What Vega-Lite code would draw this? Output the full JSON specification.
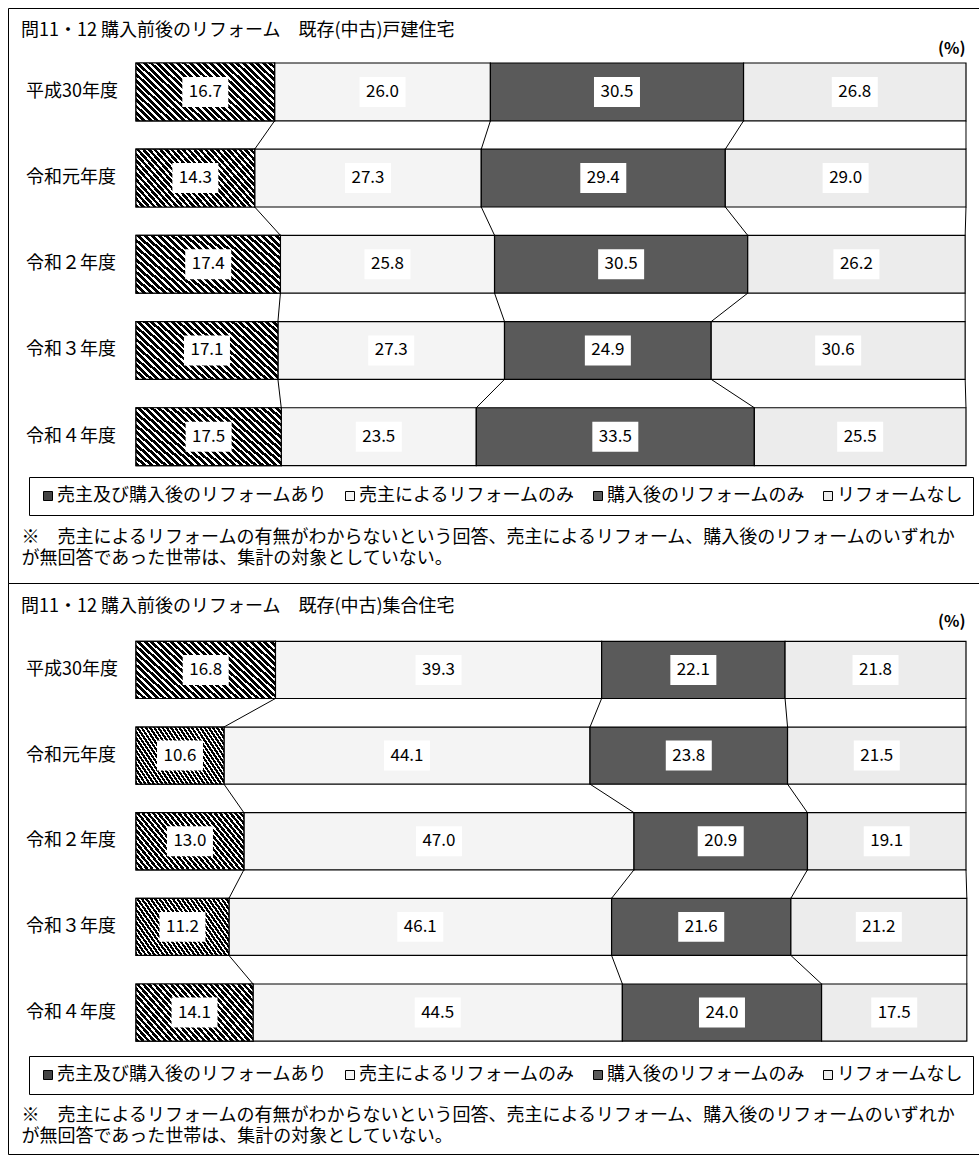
{
  "$schema": "https://vega.github.io/schema/vega-lite/v6.json",
  "padding": {"left": 7, "top": 7, "right": 0, "bottom": 0},
  "background": "white",
  "config": {
    "font": "Noto Sans CJK JP",
    "view": {"stroke": "black", "strokeWidth": 1},
    "axis": {"grid": false}
  },
  "datasets": {
    "d": [
      {"house": "戸建", "year": "平成30年度", "fy": 2018, "cat": "売主及び購入後のリフォームあり", "v": 16.7},
      {"house": "戸建", "year": "平成30年度", "fy": 2018, "cat": "売主によるリフォームのみ", "v": 26.0},
      {"house": "戸建", "year": "平成30年度", "fy": 2018, "cat": "購入後のリフォームのみ", "v": 30.5},
      {"house": "戸建", "year": "平成30年度", "fy": 2018, "cat": "リフォームなし", "v": 26.8},
      {"house": "戸建", "year": "令和元年度", "fy": 2019, "cat": "売主及び購入後のリフォームあり", "v": 14.3},
      {"house": "戸建", "year": "令和元年度", "fy": 2019, "cat": "売主によるリフォームのみ", "v": 27.3},
      {"house": "戸建", "year": "令和元年度", "fy": 2019, "cat": "購入後のリフォームのみ", "v": 29.4},
      {"house": "戸建", "year": "令和元年度", "fy": 2019, "cat": "リフォームなし", "v": 29.0},
      {"house": "戸建", "year": "令和２年度", "fy": 2020, "cat": "売主及び購入後のリフォームあり", "v": 17.4},
      {"house": "戸建", "year": "令和２年度", "fy": 2020, "cat": "売主によるリフォームのみ", "v": 25.8},
      {"house": "戸建", "year": "令和２年度", "fy": 2020, "cat": "購入後のリフォームのみ", "v": 30.5},
      {"house": "戸建", "year": "令和２年度", "fy": 2020, "cat": "リフォームなし", "v": 26.2},
      {"house": "戸建", "year": "令和３年度", "fy": 2021, "cat": "売主及び購入後のリフォームあり", "v": 17.1},
      {"house": "戸建", "year": "令和３年度", "fy": 2021, "cat": "売主によるリフォームのみ", "v": 27.3},
      {"house": "戸建", "year": "令和３年度", "fy": 2021, "cat": "購入後のリフォームのみ", "v": 24.9},
      {"house": "戸建", "year": "令和３年度", "fy": 2021, "cat": "リフォームなし", "v": 30.6},
      {"house": "戸建", "year": "令和４年度", "fy": 2022, "cat": "売主及び購入後のリフォームあり", "v": 17.5},
      {"house": "戸建", "year": "令和４年度", "fy": 2022, "cat": "売主によるリフォームのみ", "v": 23.5},
      {"house": "戸建", "year": "令和４年度", "fy": 2022, "cat": "購入後のリフォームのみ", "v": 33.5},
      {"house": "戸建", "year": "令和４年度", "fy": 2022, "cat": "リフォームなし", "v": 25.5},
      {"house": "集合", "year": "平成30年度", "fy": 2018, "cat": "売主及び購入後のリフォームあり", "v": 16.8},
      {"house": "集合", "year": "平成30年度", "fy": 2018, "cat": "売主によるリフォームのみ", "v": 39.3},
      {"house": "集合", "year": "平成30年度", "fy": 2018, "cat": "購入後のリフォームのみ", "v": 22.1},
      {"house": "集合", "year": "平成30年度", "fy": 2018, "cat": "リフォームなし", "v": 21.8},
      {"house": "集合", "year": "令和元年度", "fy": 2019, "cat": "売主及び購入後のリフォームあり", "v": 10.6},
      {"house": "集合", "year": "令和元年度", "fy": 2019, "cat": "売主によるリフォームのみ", "v": 44.1},
      {"house": "集合", "year": "令和元年度", "fy": 2019, "cat": "購入後のリフォームのみ", "v": 23.8},
      {"house": "集合", "year": "令和元年度", "fy": 2019, "cat": "リフォームなし", "v": 21.5},
      {"house": "集合", "year": "令和２年度", "fy": 2020, "cat": "売主及び購入後のリフォームあり", "v": 13.0},
      {"house": "集合", "year": "令和２年度", "fy": 2020, "cat": "売主によるリフォームのみ", "v": 47.0},
      {"house": "集合", "year": "令和２年度", "fy": 2020, "cat": "購入後のリフォームのみ", "v": 20.9},
      {"house": "集合", "year": "令和２年度", "fy": 2020, "cat": "リフォームなし", "v": 19.1},
      {"house": "集合", "year": "令和３年度", "fy": 2021, "cat": "売主及び購入後のリフォームあり", "v": 11.2},
      {"house": "集合", "year": "令和３年度", "fy": 2021, "cat": "売主によるリフォームのみ", "v": 46.1},
      {"house": "集合", "year": "令和３年度", "fy": 2021, "cat": "購入後のリフォームのみ", "v": 21.6},
      {"house": "集合", "year": "令和３年度", "fy": 2021, "cat": "リフォームなし", "v": 21.2},
      {"house": "集合", "year": "令和４年度", "fy": 2022, "cat": "売主及び購入後のリフォームあり", "v": 14.1},
      {"house": "集合", "year": "令和４年度", "fy": 2022, "cat": "売主によるリフォームのみ", "v": 44.5},
      {"house": "集合", "year": "令和４年度", "fy": 2022, "cat": "購入後のリフォームのみ", "v": 24.0},
      {"house": "集合", "year": "令和４年度", "fy": 2022, "cat": "リフォームなし", "v": 17.5}
    ]
  },
  "bounds": "flush",
  "spacing": 0,
  "resolve": {"scale": {"x": "independent", "y": "independent", "fill": "independent"}, "legend": {"fill": "independent"}},
  "vconcat": [
    {
      "width": 971,
      "height": 575,
      "data": {"name": "d"},
      "title": {"text": "問11・12 購入前後のリフォーム　既存(中古)戸建住宅", "anchor": "start", "frame": "group", "offset": -41, "dx": 13, "baseline": "middle", "fontSize": 18, "fontWeight": "normal", "color": "black"},
      "transform": [
        {"filter": "datum.house === '戸建'"},
        {"calculate": "indexof(['売主及び購入後のリフォームあり','売主によるリフォームのみ','購入後のリフォームのみ','リフォームなし'], datum.cat)", "as": "ci"},
        {"window": [{"op": "sum", "field": "v", "as": "c1"}], "groupby": ["year"], "sort": [{"field": "ci"}], "frame": [null, 0]},
        {"calculate": "datum.c1 - datum.v", "as": "c0"},
        {"calculate": "datum.c1 - datum.v / 2", "as": "mid"}
      ],
      "resolve": {"axis": {"x": "independent"}},
      "layer": [
        {
          "mark": {"type": "rect", "stroke": "black", "strokeWidth": 1.2},
          "encoding": {
            "x": {"field": "c0", "type": "quantitative", "scale": {"domain": [-15.4217, 101.5663], "nice": false, "zero": false},
              "axis": {"orient": "top", "domain": false, "ticks": false, "labels": false, "grid": false, "title": "(%)", "titleX": 957, "titleY": 40, "titleAlign": "right", "titleBaseline": "middle", "titleFontSize": 16, "titleFontWeight": "bold", "titleColor": "black"}},
            "x2": {"field": "c1"},
            "y": {"field": "year", "type": "nominal",
              "scale": {"type": "band", "domain": ["平成30年度", "令和元年度", "令和２年度", "令和３年度", "令和４年度"], "paddingInner": 0.3293, "paddingOuter": 1.1078, "align": 0.3189},
              "axis": null},
            "fill": {"field": "cat", "type": "nominal",
              "scale": {"domain": ["売主及び購入後のリフォームあり", "売主によるリフォームのみ", "購入後のリフォームのみ", "リフォームなし"], "range": ["#444444", "#f4f4f4", "#5a5a5a", "#ececec"]},
              "legend": {"orient": "none", "legendX": 21, "legendY": 469, "direction": "horizontal", "title": null, "strokeColor": "black", "fillColor": "white", "padding": 10, "columnPadding": 14, "labelFontSize": 18, "labelColor": "black", "labelLimit": 400, "labelOffset": 0, "symbolType": "square", "symbolSize": 81, "symbolStrokeColor": "black", "symbolStrokeWidth": 1, "symbolOpacity": 1}}
          }
        },
        {
          "transform": [{"filter": "datum.ci === 0"}],
          "mark": {"type": "rect", "stroke": "black", "strokeWidth": 1.2,
            "fill": {"gradient": "linear", "x1": 0, "y1": 1, "x2": 1.206, "y2": 0.48, "stops": [
              {"offset": 0, "color": "#000"}, {"offset": 0.02, "color": "#000"}, {"offset": 0.02, "color": "#fff"}, {"offset": 0.0333, "color": "#fff"},
              {"offset": 0.0333, "color": "#000"}, {"offset": 0.0533, "color": "#000"}, {"offset": 0.0533, "color": "#fff"}, {"offset": 0.0667, "color": "#fff"},
              {"offset": 0.0667, "color": "#000"}, {"offset": 0.0867, "color": "#000"}, {"offset": 0.0867, "color": "#fff"}, {"offset": 0.1, "color": "#fff"},
              {"offset": 0.1, "color": "#000"}, {"offset": 0.12, "color": "#000"}, {"offset": 0.12, "color": "#fff"}, {"offset": 0.1333, "color": "#fff"},
              {"offset": 0.1333, "color": "#000"}, {"offset": 0.1533, "color": "#000"}, {"offset": 0.1533, "color": "#fff"}, {"offset": 0.1667, "color": "#fff"},
              {"offset": 0.1667, "color": "#000"}, {"offset": 0.1867, "color": "#000"}, {"offset": 0.1867, "color": "#fff"}, {"offset": 0.2, "color": "#fff"},
              {"offset": 0.2, "color": "#000"}, {"offset": 0.22, "color": "#000"}, {"offset": 0.22, "color": "#fff"}, {"offset": 0.2333, "color": "#fff"},
              {"offset": 0.2333, "color": "#000"}, {"offset": 0.2533, "color": "#000"}, {"offset": 0.2533, "color": "#fff"}, {"offset": 0.2667, "color": "#fff"},
              {"offset": 0.2667, "color": "#000"}, {"offset": 0.2867, "color": "#000"}, {"offset": 0.2867, "color": "#fff"}, {"offset": 0.3, "color": "#fff"},
              {"offset": 0.3, "color": "#000"}, {"offset": 0.32, "color": "#000"}, {"offset": 0.32, "color": "#fff"}, {"offset": 0.3333, "color": "#fff"},
              {"offset": 0.3333, "color": "#000"}, {"offset": 0.3533, "color": "#000"}, {"offset": 0.3533, "color": "#fff"}, {"offset": 0.3667, "color": "#fff"},
              {"offset": 0.3667, "color": "#000"}, {"offset": 0.3867, "color": "#000"}, {"offset": 0.3867, "color": "#fff"}, {"offset": 0.4, "color": "#fff"},
              {"offset": 0.4, "color": "#000"}, {"offset": 0.42, "color": "#000"}, {"offset": 0.42, "color": "#fff"}, {"offset": 0.4333, "color": "#fff"},
              {"offset": 0.4333, "color": "#000"}, {"offset": 0.4533, "color": "#000"}, {"offset": 0.4533, "color": "#fff"}, {"offset": 0.4667, "color": "#fff"},
              {"offset": 0.4667, "color": "#000"}, {"offset": 0.4867, "color": "#000"}, {"offset": 0.4867, "color": "#fff"}, {"offset": 0.5, "color": "#fff"},
              {"offset": 0.5, "color": "#000"}, {"offset": 0.52, "color": "#000"}, {"offset": 0.52, "color": "#fff"}, {"offset": 0.5333, "color": "#fff"},
              {"offset": 0.5333, "color": "#000"}, {"offset": 0.5533, "color": "#000"}, {"offset": 0.5533, "color": "#fff"}, {"offset": 0.5667, "color": "#fff"},
              {"offset": 0.5667, "color": "#000"}, {"offset": 0.5867, "color": "#000"}, {"offset": 0.5867, "color": "#fff"}, {"offset": 0.6, "color": "#fff"},
              {"offset": 0.6, "color": "#000"}, {"offset": 0.62, "color": "#000"}, {"offset": 0.62, "color": "#fff"}, {"offset": 0.6333, "color": "#fff"},
              {"offset": 0.6333, "color": "#000"}, {"offset": 0.6533, "color": "#000"}, {"offset": 0.6533, "color": "#fff"}, {"offset": 0.6667, "color": "#fff"},
              {"offset": 0.6667, "color": "#000"}, {"offset": 0.6867, "color": "#000"}, {"offset": 0.6867, "color": "#fff"}, {"offset": 0.7, "color": "#fff"},
              {"offset": 0.7, "color": "#000"}, {"offset": 0.72, "color": "#000"}, {"offset": 0.72, "color": "#fff"}, {"offset": 0.7333, "color": "#fff"},
              {"offset": 0.7333, "color": "#000"}, {"offset": 0.7533, "color": "#000"}, {"offset": 0.7533, "color": "#fff"}, {"offset": 0.7667, "color": "#fff"},
              {"offset": 0.7667, "color": "#000"}, {"offset": 0.7867, "color": "#000"}, {"offset": 0.7867, "color": "#fff"}, {"offset": 0.8, "color": "#fff"},
              {"offset": 0.8, "color": "#000"}, {"offset": 0.82, "color": "#000"}, {"offset": 0.82, "color": "#fff"}, {"offset": 0.8333, "color": "#fff"},
              {"offset": 0.8333, "color": "#000"}, {"offset": 0.8533, "color": "#000"}, {"offset": 0.8533, "color": "#fff"}, {"offset": 0.8667, "color": "#fff"},
              {"offset": 0.8667, "color": "#000"}, {"offset": 0.8867, "color": "#000"}, {"offset": 0.8867, "color": "#fff"}, {"offset": 0.9, "color": "#fff"},
              {"offset": 0.9, "color": "#000"}, {"offset": 0.92, "color": "#000"}, {"offset": 0.92, "color": "#fff"}, {"offset": 0.9333, "color": "#fff"},
              {"offset": 0.9333, "color": "#000"}, {"offset": 0.9533, "color": "#000"}, {"offset": 0.9533, "color": "#fff"}, {"offset": 0.9667, "color": "#fff"},
              {"offset": 0.9667, "color": "#000"}, {"offset": 0.9867, "color": "#000"}, {"offset": 0.9867, "color": "#fff"}, {"offset": 1, "color": "#fff"}
            ]}},
          "encoding": {
            "x": {"field": "c0", "type": "quantitative", "axis": null},
            "x2": {"field": "c1"},
            "y": {"field": "year", "type": "nominal", "axis": null}
          }
        },
        {
          "transform": [
            {"window": [{"op": "lead", "field": "c1", "as": "n1"}, {"op": "lead", "field": "year", "as": "ny"}], "groupby": ["ci"], "sort": [{"field": "fy"}]},
            {"filter": "datum.ny != null"}
          ],
          "mark": {"type": "rule", "color": "black", "strokeWidth": 1},
          "encoding": {
            "x": {"field": "c1", "type": "quantitative", "axis": null},
            "x2": {"field": "n1"},
            "y": {"field": "year", "type": "nominal", "bandPosition": 1, "axis": null},
            "y2": {"field": "ny", "bandPosition": 0}
          }
        },
        {
          "mark": {"type": "point", "shape": "M-1,-0.652H1V0.652H-1Z", "filled": true, "fill": "white", "opacity": 1, "size": 2116, "strokeWidth": 0},
          "encoding": {
            "x": {"field": "mid", "type": "quantitative", "axis": null},
            "y": {"field": "year", "type": "nominal", "axis": null}
          }
        },
        {
          "mark": {"type": "text", "fontSize": 17, "baseline": "middle", "align": "center", "fill": "black"},
          "encoding": {
            "x": {"field": "mid", "type": "quantitative",
              "axis": {"orient": "bottom", "domain": false, "ticks": false, "labels": false, "grid": false,
                "title": ["※　売主によるリフォームの有無がわからないという回答、売主によるリフォーム、購入後のリフォームのいずれか", "が無回答であった世帯は、集計の対象としていない。"],
                "titleFontSize": 18, "titleFontWeight": "normal", "titleColor": "black", "titleAlign": "left", "titleBaseline": "top", "titleX": 13, "titleY": -55, "titleLineHeight": 21}},
            "y": {"field": "year", "type": "nominal", "axis": null},
            "text": {"field": "v", "type": "quantitative", "format": ".1f"}
          }
        },
        {
          "transform": [{"filter": "datum.ci === 0"}],
          "mark": {"type": "text", "fontSize": 18, "baseline": "middle", "align": "left", "fill": "black"},
          "encoding": {
            "x": {"datum": -13.25, "type": "quantitative", "axis": null},
            "y": {"field": "year", "type": "nominal", "axis": null},
            "text": {"field": "year", "type": "nominal"}
          }
        }
      ]
    },
    {
      "width": 971,
      "height": 571,
      "data": {"name": "d"},
      "title": {"text": "問11・12 購入前後のリフォーム　既存(中古)集合住宅", "anchor": "start", "frame": "group", "offset": -42, "dx": 13, "baseline": "middle", "fontSize": 18, "fontWeight": "normal", "color": "black"},
      "transform": [
        {"filter": "datum.house === '集合'"},
        {"calculate": "indexof(['売主及び購入後のリフォームあり','売主によるリフォームのみ','購入後のリフォームのみ','リフォームなし'], datum.cat)", "as": "ci"},
        {"window": [{"op": "sum", "field": "v", "as": "c1"}], "groupby": ["year"], "sort": [{"field": "ci"}], "frame": [null, 0]},
        {"calculate": "datum.c1 - datum.v", "as": "c0"},
        {"calculate": "datum.c1 - datum.v / 2", "as": "mid"}
      ],
      "resolve": {"axis": {"x": "independent"}},
      "layer": [
        {
          "mark": {"type": "rect", "stroke": "black", "strokeWidth": 1.2},
          "encoding": {
            "x": {"field": "c0", "type": "quantitative", "scale": {"domain": [-15.4217, 101.5663], "nice": false, "zero": false},
              "axis": {"orient": "top", "domain": false, "ticks": false, "labels": false, "grid": false, "title": "(%)", "titleX": 957, "titleY": 38, "titleAlign": "right", "titleBaseline": "middle", "titleFontSize": 16, "titleFontWeight": "bold", "titleColor": "black"}},
            "x2": {"field": "c1"},
            "y": {"field": "year", "type": "nominal",
              "scale": {"type": "band", "domain": ["平成30年度", "令和元年度", "令和２年度", "令和３年度", "令和４年度"], "paddingInner": 0.3333, "paddingOuter": 1.0655, "align": 0.3408},
              "axis": null},
            "fill": {"field": "cat", "type": "nominal",
              "scale": {"domain": ["売主及び購入後のリフォームあり", "売主によるリフォームのみ", "購入後のリフォームのみ", "リフォームなし"], "range": ["#444444", "#f4f4f4", "#5a5a5a", "#ececec"]},
              "legend": {"orient": "none", "legendX": 21, "legendY": 473, "direction": "horizontal", "title": null, "strokeColor": "black", "fillColor": "white", "padding": 10, "columnPadding": 14, "labelFontSize": 18, "labelColor": "black", "labelLimit": 400, "labelOffset": 0, "symbolType": "square", "symbolSize": 81, "symbolStrokeColor": "black", "symbolStrokeWidth": 1, "symbolOpacity": 1}}
          }
        },
        {
          "transform": [{"filter": "datum.ci === 0"}],
          "mark": {"type": "rect", "stroke": "black", "strokeWidth": 1.2,
            "fill": {"gradient": "linear", "x1": 0, "y1": 1, "x2": 1.206, "y2": 0.48, "stops": [
              {"offset": 0, "color": "#000"}, {"offset": 0.02, "color": "#000"}, {"offset": 0.02, "color": "#fff"}, {"offset": 0.0333, "color": "#fff"},
              {"offset": 0.0333, "color": "#000"}, {"offset": 0.0533, "color": "#000"}, {"offset": 0.0533, "color": "#fff"}, {"offset": 0.0667, "color": "#fff"},
              {"offset": 0.0667, "color": "#000"}, {"offset": 0.0867, "color": "#000"}, {"offset": 0.0867, "color": "#fff"}, {"offset": 0.1, "color": "#fff"},
              {"offset": 0.1, "color": "#000"}, {"offset": 0.12, "color": "#000"}, {"offset": 0.12, "color": "#fff"}, {"offset": 0.1333, "color": "#fff"},
              {"offset": 0.1333, "color": "#000"}, {"offset": 0.1533, "color": "#000"}, {"offset": 0.1533, "color": "#fff"}, {"offset": 0.1667, "color": "#fff"},
              {"offset": 0.1667, "color": "#000"}, {"offset": 0.1867, "color": "#000"}, {"offset": 0.1867, "color": "#fff"}, {"offset": 0.2, "color": "#fff"},
              {"offset": 0.2, "color": "#000"}, {"offset": 0.22, "color": "#000"}, {"offset": 0.22, "color": "#fff"}, {"offset": 0.2333, "color": "#fff"},
              {"offset": 0.2333, "color": "#000"}, {"offset": 0.2533, "color": "#000"}, {"offset": 0.2533, "color": "#fff"}, {"offset": 0.2667, "color": "#fff"},
              {"offset": 0.2667, "color": "#000"}, {"offset": 0.2867, "color": "#000"}, {"offset": 0.2867, "color": "#fff"}, {"offset": 0.3, "color": "#fff"},
              {"offset": 0.3, "color": "#000"}, {"offset": 0.32, "color": "#000"}, {"offset": 0.32, "color": "#fff"}, {"offset": 0.3333, "color": "#fff"},
              {"offset": 0.3333, "color": "#000"}, {"offset": 0.3533, "color": "#000"}, {"offset": 0.3533, "color": "#fff"}, {"offset": 0.3667, "color": "#fff"},
              {"offset": 0.3667, "color": "#000"}, {"offset": 0.3867, "color": "#000"}, {"offset": 0.3867, "color": "#fff"}, {"offset": 0.4, "color": "#fff"},
              {"offset": 0.4, "color": "#000"}, {"offset": 0.42, "color": "#000"}, {"offset": 0.42, "color": "#fff"}, {"offset": 0.4333, "color": "#fff"},
              {"offset": 0.4333, "color": "#000"}, {"offset": 0.4533, "color": "#000"}, {"offset": 0.4533, "color": "#fff"}, {"offset": 0.4667, "color": "#fff"},
              {"offset": 0.4667, "color": "#000"}, {"offset": 0.4867, "color": "#000"}, {"offset": 0.4867, "color": "#fff"}, {"offset": 0.5, "color": "#fff"},
              {"offset": 0.5, "color": "#000"}, {"offset": 0.52, "color": "#000"}, {"offset": 0.52, "color": "#fff"}, {"offset": 0.5333, "color": "#fff"},
              {"offset": 0.5333, "color": "#000"}, {"offset": 0.5533, "color": "#000"}, {"offset": 0.5533, "color": "#fff"}, {"offset": 0.5667, "color": "#fff"},
              {"offset": 0.5667, "color": "#000"}, {"offset": 0.5867, "color": "#000"}, {"offset": 0.5867, "color": "#fff"}, {"offset": 0.6, "color": "#fff"},
              {"offset": 0.6, "color": "#000"}, {"offset": 0.62, "color": "#000"}, {"offset": 0.62, "color": "#fff"}, {"offset": 0.6333, "color": "#fff"},
              {"offset": 0.6333, "color": "#000"}, {"offset": 0.6533, "color": "#000"}, {"offset": 0.6533, "color": "#fff"}, {"offset": 0.6667, "color": "#fff"},
              {"offset": 0.6667, "color": "#000"}, {"offset": 0.6867, "color": "#000"}, {"offset": 0.6867, "color": "#fff"}, {"offset": 0.7, "color": "#fff"},
              {"offset": 0.7, "color": "#000"}, {"offset": 0.72, "color": "#000"}, {"offset": 0.72, "color": "#fff"}, {"offset": 0.7333, "color": "#fff"},
              {"offset": 0.7333, "color": "#000"}, {"offset": 0.7533, "color": "#000"}, {"offset": 0.7533, "color": "#fff"}, {"offset": 0.7667, "color": "#fff"},
              {"offset": 0.7667, "color": "#000"}, {"offset": 0.7867, "color": "#000"}, {"offset": 0.7867, "color": "#fff"}, {"offset": 0.8, "color": "#fff"},
              {"offset": 0.8, "color": "#000"}, {"offset": 0.82, "color": "#000"}, {"offset": 0.82, "color": "#fff"}, {"offset": 0.8333, "color": "#fff"},
              {"offset": 0.8333, "color": "#000"}, {"offset": 0.8533, "color": "#000"}, {"offset": 0.8533, "color": "#fff"}, {"offset": 0.8667, "color": "#fff"},
              {"offset": 0.8667, "color": "#000"}, {"offset": 0.8867, "color": "#000"}, {"offset": 0.8867, "color": "#fff"}, {"offset": 0.9, "color": "#fff"},
              {"offset": 0.9, "color": "#000"}, {"offset": 0.92, "color": "#000"}, {"offset": 0.92, "color": "#fff"}, {"offset": 0.9333, "color": "#fff"},
              {"offset": 0.9333, "color": "#000"}, {"offset": 0.9533, "color": "#000"}, {"offset": 0.9533, "color": "#fff"}, {"offset": 0.9667, "color": "#fff"},
              {"offset": 0.9667, "color": "#000"}, {"offset": 0.9867, "color": "#000"}, {"offset": 0.9867, "color": "#fff"}, {"offset": 1, "color": "#fff"}
            ]}},
          "encoding": {
            "x": {"field": "c0", "type": "quantitative", "axis": null},
            "x2": {"field": "c1"},
            "y": {"field": "year", "type": "nominal", "axis": null}
          }
        },
        {
          "transform": [
            {"window": [{"op": "lead", "field": "c1", "as": "n1"}, {"op": "lead", "field": "year", "as": "ny"}], "groupby": ["ci"], "sort": [{"field": "fy"}]},
            {"filter": "datum.ny != null"}
          ],
          "mark": {"type": "rule", "color": "black", "strokeWidth": 1},
          "encoding": {
            "x": {"field": "c1", "type": "quantitative", "axis": null},
            "x2": {"field": "n1"},
            "y": {"field": "year", "type": "nominal", "bandPosition": 1, "axis": null},
            "y2": {"field": "ny", "bandPosition": 0}
          }
        },
        {
          "mark": {"type": "point", "shape": "M-1,-0.652H1V0.652H-1Z", "filled": true, "fill": "white", "opacity": 1, "size": 2116, "strokeWidth": 0},
          "encoding": {
            "x": {"field": "mid", "type": "quantitative", "axis": null},
            "y": {"field": "year", "type": "nominal", "axis": null}
          }
        },
        {
          "mark": {"type": "text", "fontSize": 17, "baseline": "middle", "align": "center", "fill": "black"},
          "encoding": {
            "x": {"field": "mid", "type": "quantitative",
              "axis": {"orient": "bottom", "domain": false, "ticks": false, "labels": false, "grid": false,
                "title": ["※　売主によるリフォームの有無がわからないという回答、売主によるリフォーム、購入後のリフォームのいずれか", "が無回答であった世帯は、集計の対象としていない。"],
                "titleFontSize": 18, "titleFontWeight": "normal", "titleColor": "black", "titleAlign": "left", "titleBaseline": "top", "titleX": 13, "titleY": -48, "titleLineHeight": 21}},
            "y": {"field": "year", "type": "nominal", "axis": null},
            "text": {"field": "v", "type": "quantitative", "format": ".1f"}
          }
        },
        {
          "transform": [{"filter": "datum.ci === 0"}],
          "mark": {"type": "text", "fontSize": 18, "baseline": "middle", "align": "left", "fill": "black"},
          "encoding": {
            "x": {"datum": -13.25, "type": "quantitative", "axis": null},
            "y": {"field": "year", "type": "nominal", "axis": null},
            "text": {"field": "year", "type": "nominal"}
          }
        }
      ]
    }
  ]
}
